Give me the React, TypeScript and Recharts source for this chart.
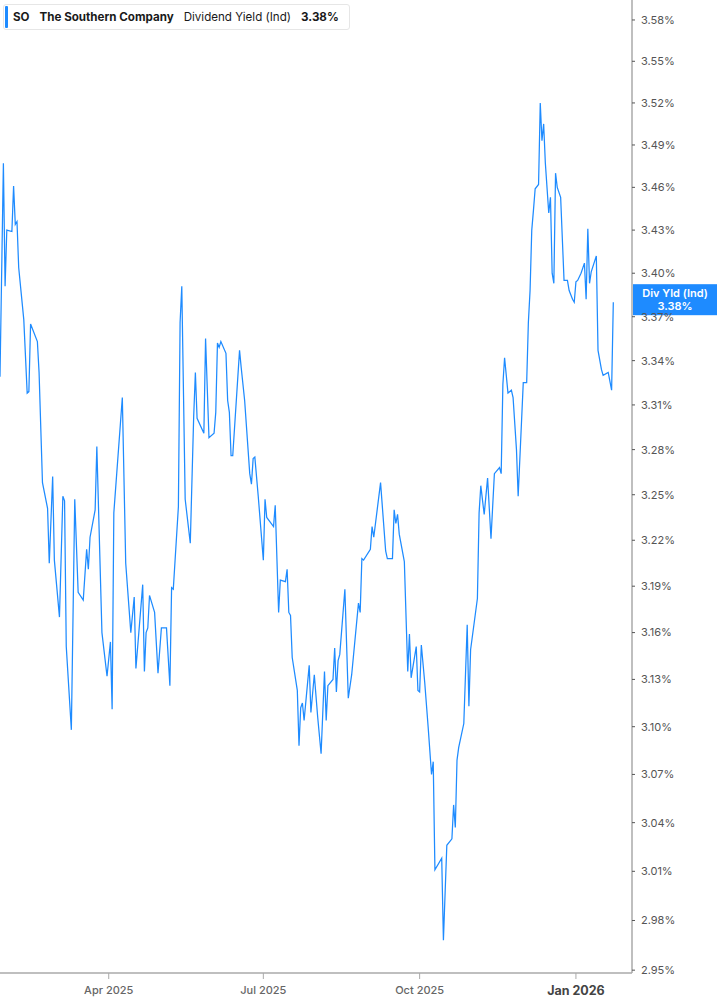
import React from 'react';
import { LineChart, Line, XAxis, YAxis, ReferenceLine } from 'recharts';

// ---------- data ----------
const dates: string[] = [
  '2025-01-27','2025-01-29','2025-01-30','2025-01-31','2025-02-03','2025-02-04','2025-02-05','2025-02-06','2025-02-07','2025-02-10',
  '2025-02-12','2025-02-13','2025-02-14','2025-02-18','2025-02-19','2025-02-21','2025-02-24','2025-02-25','2025-02-27','2025-02-28',
  '2025-03-03','2025-03-05','2025-03-06','2025-03-07','2025-03-10','2025-03-12','2025-03-14','2025-03-17','2025-03-19','2025-03-20',
  '2025-03-21','2025-03-24','2025-03-25','2025-03-28','2025-03-31','2025-04-02','2025-04-03','2025-04-04','2025-04-09','2025-04-11',
  '2025-04-14','2025-04-16','2025-04-17','2025-04-21','2025-04-22','2025-04-23','2025-04-24','2025-04-25','2025-04-28','2025-04-30',
  '2025-05-02','2025-05-05','2025-05-07','2025-05-08','2025-05-09','2025-05-12','2025-05-13','2025-05-14','2025-05-16','2025-05-19',
  '2025-05-21','2025-05-22','2025-05-23','2025-05-27','2025-05-28','2025-05-30','2025-06-02','2025-06-03','2025-06-04','2025-06-05',
  '2025-06-06','2025-06-09','2025-06-10','2025-06-11','2025-06-12','2025-06-13','2025-06-17','2025-06-18','2025-06-20','2025-06-23',
  '2025-06-24','2025-06-25','2025-06-26','2025-06-28','2025-07-01','2025-07-02','2025-07-03','2025-07-07','2025-07-08','2025-07-10',
  '2025-07-11','2025-07-14','2025-07-15','2025-07-16','2025-07-17','2025-07-18','2025-07-21','2025-07-22','2025-07-23','2025-07-24',
  '2025-07-25','2025-07-28','2025-07-29','2025-07-31','2025-08-02','2025-08-04','2025-08-06','2025-08-07','2025-08-08','2025-08-11',
  '2025-08-12','2025-08-13','2025-08-14','2025-08-15','2025-08-18','2025-08-20','2025-08-22','2025-08-26','2025-08-27','2025-08-28',
  '2025-08-29','2025-09-02','2025-09-03','2025-09-04','2025-09-08','2025-09-11','2025-09-12','2025-09-15','2025-09-16','2025-09-17',
  '2025-09-18','2025-09-19','2025-09-22','2025-09-24','2025-09-25','2025-09-26','2025-09-29','2025-09-30','2025-10-01','2025-10-02',
  '2025-10-04','2025-10-06','2025-10-08','2025-10-09','2025-10-10','2025-10-14','2025-10-15','2025-10-17','2025-10-20','2025-10-21',
  '2025-10-22','2025-10-23','2025-10-24','2025-10-27','2025-10-29','2025-10-30','2025-10-31','2025-11-04','2025-11-05','2025-11-06',
  '2025-11-08','2025-11-10','2025-11-12','2025-11-14','2025-11-17','2025-11-18','2025-11-19','2025-11-20','2025-11-22','2025-11-24',
  '2025-11-25','2025-11-27','2025-11-28','2025-12-01','2025-12-03','2025-12-04','2025-12-05','2025-12-06','2025-12-07','2025-12-08',
  '2025-12-10','2025-12-11','2025-12-12','2025-12-13','2025-12-14','2025-12-16','2025-12-17','2025-12-18','2025-12-19','2025-12-20',
  '2025-12-21','2025-12-23','2025-12-25','2025-12-27','2025-12-28','2025-12-30','2025-12-31','2026-01-01','2026-01-02','2026-01-04',
  '2026-01-06','2026-01-07','2026-01-08','2026-01-09','2026-01-10','2026-01-13','2026-01-14','2026-01-16','2026-01-17','2026-01-20',
  '2026-01-22','2026-01-23',
];

const dividendYield: number[] = [
  3.329, 3.477, 3.391, 3.430, 3.429, 3.461, 3.434, 3.436, 3.404, 3.368,
  3.318, 3.319, 3.365, 3.353, 3.332, 3.258, 3.241, 3.205, 3.262, 3.207,
  3.170, 3.249, 3.246, 3.151, 3.098, 3.247, 3.186, 3.181, 3.214, 3.201,
  3.222, 3.240, 3.282, 3.160, 3.132, 3.154, 3.111, 3.238, 3.315, 3.205,
  3.160, 3.183, 3.137, 3.191, 3.135, 3.160, 3.163, 3.184, 3.173, 3.134,
  3.163, 3.163, 3.126, 3.189, 3.188, 3.242, 3.366, 3.391, 3.247, 3.218,
  3.302, 3.332, 3.301, 3.291, 3.355, 3.288, 3.291, 3.305, 3.352, 3.349,
  3.353, 3.345, 3.313, 3.305, 3.276, 3.276, 3.347, 3.335, 3.313, 3.264,
  3.257, 3.274, 3.275, 3.249, 3.207, 3.247, 3.235, 3.229, 3.243, 3.173,
  3.194, 3.193, 3.201, 3.173, 3.171, 3.144, 3.123, 3.088, 3.112, 3.115,
  3.104, 3.139, 3.109, 3.133, 3.106, 3.083, 3.135, 3.104, 3.126, 3.130,
  3.150, 3.122, 3.142, 3.146, 3.188, 3.118, 3.133, 3.179, 3.173, 3.208,
  3.207, 3.214, 3.229, 3.222, 3.258, 3.213, 3.208, 3.208, 3.240, 3.231,
  3.237, 3.224, 3.206, 3.135, 3.159, 3.131, 3.151, 3.123, 3.122, 3.152,
  3.128, 3.100, 3.070, 3.078, 3.011, 3.018, 2.968, 3.026, 3.030, 3.051,
  3.037, 3.079, 3.087, 3.102, 3.165, 3.113, 3.149, 3.182, 3.238, 3.256,
  3.237, 3.261, 3.221, 3.264, 3.268, 3.264, 3.324, 3.342, 3.318, 3.320,
  3.315, 3.280, 3.249, 3.325, 3.325, 3.366, 3.388, 3.430, 3.444, 3.459,
  3.462, 3.520, 3.493, 3.505, 3.477, 3.442, 3.453, 3.400, 3.393, 3.470,
  3.460, 3.453, 3.395, 3.395, 3.388, 3.382, 3.380, 3.394, 3.395, 3.400,
  3.407, 3.382, 3.431, 3.393, 3.401, 3.412, 3.347, 3.334, 3.330, 3.332,
  3.320, 3.380,
];

const yTicks: number[] = [
  2.95, 2.98, 3.01, 3.04, 3.07, 3.10, 3.13, 3.16, 3.19, 3.22, 3.25,
  3.28, 3.31, 3.34, 3.37, 3.40, 3.43, 3.46, 3.49, 3.52, 3.55, 3.58,
];
const yDomain: number[] = [2.9483, 3.5946];

const xTickDates: string[] = ['2025-04-01', '2025-07-01', '2025-10-01', '2026-01-01'];
const xTickLabels: string[] = ['Apr 2025', 'Jul 2025', 'Oct 2025', 'Jan 2026'];
const xDomainDates: string[] = ['2025-01-27', '2026-02-03'];

const ticker = 'SO';
const companyName = 'The Southern Company';
const metricName = 'Dividend Yield (Ind)';
const tagName = 'Div Yld (Ind)';
const lastValue = 3.38;

// ---------- helpers ----------
const toTs = (s: string) => Date.parse(s + 'T00:00:00Z');
const chartData = dates.map((d, i) => ({ t: toTs(d), v: dividendYield[i] }));
const xTicks = xTickDates.map(toTs);
const xDomain = xDomainDates.map(toTs);

const BLUE = '#1e8bff';
const FONT = 'Inter, "Noto Sans", Arial, sans-serif';

const XTick = (props: any) => {
  const { x, y, payload } = props;
  const idx = xTicks.indexOf(payload.value);
  const label = idx >= 0 ? xTickLabels[idx] : '';
  const isYear = label.startsWith('Jan');
  return (
    <text
      x={x}
      y={y + (isYear ? 12 : 11)}
      textAnchor="middle"
      fontFamily={FONT}
      fontSize={isYear ? 12.5 : 11}
      fontWeight={isYear ? 700 : 500}
      fill={isYear ? '#444' : '#666'}
    >
      {label}
    </text>
  );
};

const TagLabel = (props: any) => {
  const vb = props.viewBox || {};
  const x0 = (vb.x ?? 0) + (vb.width ?? 632) + 1;
  const yc = vb.y ?? 0;
  return (
    <g>
      <rect x={x0} y={yc - 18} width={90} height={31} fill={BLUE} />
      <text x={x0 + 42} y={yc - 5} textAnchor="middle" fill="#fff" fontFamily={FONT} fontSize={11} fontWeight={600}>
        {tagName}
      </text>
      <text x={x0 + 42} y={yc + 8} textAnchor="middle" fill="#fff" fontFamily={FONT} fontSize={11} fontWeight={600}>
        {lastValue.toFixed(2) + '%'}
      </text>
    </g>
  );
};

export default function App() {
  return (
    <div style={{ position: 'absolute', left: 0, top: 0, width: 717, height: 1005, background: '#fff', fontFamily: FONT }}>
      <LineChart width={717} height={1005} data={chartData} margin={{ top: 0, right: 0, bottom: 0, left: 0 }}>
        <XAxis
          dataKey="t"
          type="number"
          scale="time"
          domain={xDomain}
          allowDataOverflow
          ticks={xTicks}
          interval={0}
          height={32}
          tickSize={6}
          tickMargin={4}
          axisLine={{ stroke: '#aaa', strokeWidth: 1.5 }}
          tickLine={{ stroke: '#aaa' }}
          tick={<XTick />}
        />
        <YAxis
          orientation="right"
          scale="log"
          domain={yDomain}
          allowDataOverflow
          ticks={yTicks}
          interval={0}
          width={85}
          tickSize={3}
          tickMargin={6}
          axisLine={{ stroke: '#aaa', strokeWidth: 1.5 }}
          tickLine={{ stroke: '#555' }}
          tick={{ fill: '#555', fontSize: 11, fontFamily: FONT }}
          tickFormatter={(v: number) => v.toFixed(2) + '%'}
        />
        <Line
          type="linear"
          dataKey="v"
          stroke={BLUE}
          strokeWidth={1.25}
          dot={false}
          activeDot={false}
          isAnimationActive={false}
        />
        <ReferenceLine y={lastValue} stroke="none" ifOverflow="visible" label={<TagLabel />} />
      </LineChart>
      <div
        style={{
          position: 'absolute',
          left: 3,
          top: 4,
          width: 347,
          height: 26,
          boxSizing: 'border-box',
          border: '1px solid #e6e6e6',
          borderRadius: 3,
          background: '#fff',
          display: 'flex',
          alignItems: 'center',
          fontSize: 11.6,
          color: '#1a1a1a',
          whiteSpace: 'nowrap',
        }}
      >
        <div style={{ position: 'absolute', left: 1, top: 1, bottom: 1, width: 3, background: BLUE, borderRadius: 1 }} />
        <span style={{ marginLeft: 9, fontWeight: 700 }}>{ticker}</span>
        <span style={{ marginLeft: 10, fontWeight: 700 }}>{companyName}</span>
        <span style={{ marginLeft: 10, fontWeight: 400 }}>{metricName}</span>
        <span style={{ marginLeft: 10, fontWeight: 700 }}>{lastValue.toFixed(2) + '%'}</span>
      </div>
    </div>
  );
}
